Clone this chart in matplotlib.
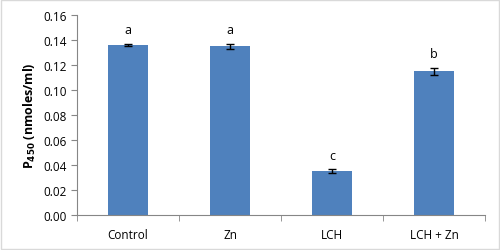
import matplotlib.pyplot as plt
from matplotlib.patches import Rectangle

# P450 levels per treatment group
groups = ["Control", "Zn", "LCH", "LCH + Zn"]
p450 = [0.136, 0.135, 0.035, 0.115]
err = [0.001, 0.002, 0.0015, 0.003]
letters = ["a", "a", "c", "b"]

plt.rcParams['font.family'] = ['Open Sans', 'DejaVu Sans']

fig = plt.figure(figsize=(5, 2.51), dpi=100)
ax = fig.add_axes([0.154, 0.139, 0.816, 0.797])

x = list(range(len(groups)))
ax.bar(x, p450, width=0.4, color="#4f81bd", zorder=2)
ax.errorbar(x, p450, yerr=err, fmt="none", ecolor="black", elinewidth=1,
            capsize=3, capthick=1, zorder=3)
for xi, v, e, lab in zip(x, p450, err, letters):
    ax.text(xi, v + e + 0.006, lab, ha="center", va="bottom", fontsize=9)

ax.set_xlim(-0.5, 3.5)
ax.set_ylim(0, 0.16)
ax.set_yticks([i * 0.02 for i in range(9)])
ax.set_yticklabels([f"{i * 0.02:.2f}" for i in range(9)], fontsize=8.5)
ax.set_xticks(x)
ax.set_xticklabels(groups, fontsize=8.5)
ax.tick_params(axis="x", length=0, pad=9)
ax.set_xticks([-0.5, 0.5, 1.5, 2.5, 3.5], minor=True)
ax.tick_params(axis="x", which="minor", length=4, color="#868686")
ax.tick_params(axis="y", length=4, color="#868686")
ax.set_ylabel("P$_{\\mathbf{450}}$ (nmoles/ml)", fontsize=9, fontweight="bold")
for s in ["top", "right"]:
    ax.spines[s].set_visible(False)
for s in ["left", "bottom"]:
    ax.spines[s].set_color("#868686")

fig.patches.append(Rectangle((0.002, 0.004), 0.995, 0.992, transform=fig.transFigure,
                             fill=False, edgecolor="#d9d9d9", linewidth=1))

fig.savefig("out.png", dpi=100)
